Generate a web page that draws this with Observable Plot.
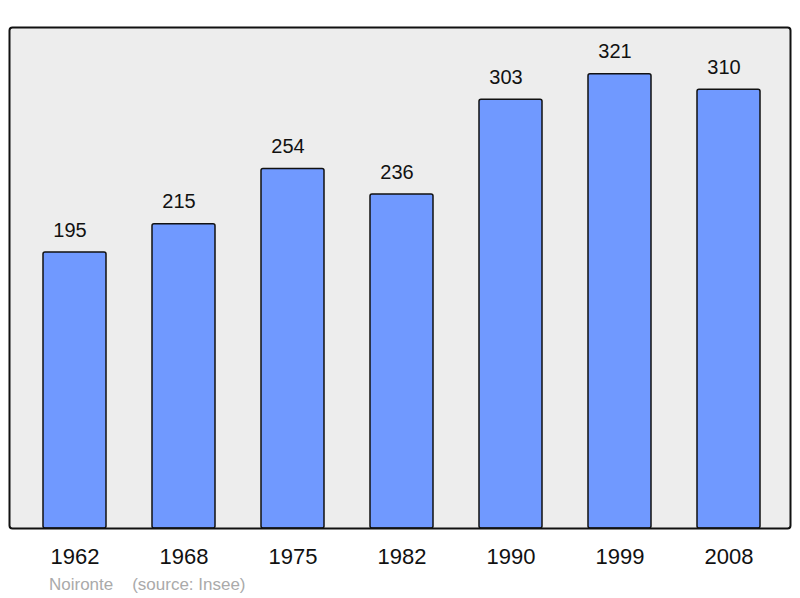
<!DOCTYPE html>
<html>
<head>
<meta charset="utf-8">
<script src="https://cdn.jsdelivr.net/npm/d3@7"></script>
<script src="https://cdn.jsdelivr.net/npm/@observablehq/plot@0.6"></script>
<style>
  body { margin: 0; background: #fff; }
  #wrap { position: relative; width: 800px; height: 598px; font-family: "Liberation Sans", Arial, sans-serif; }
  #caption { position: absolute; left: 49px; top: 576px; font-size: 17px; color: #aaaaaa; white-space: pre; line-height: 1; z-index: 1; }
</style>
</head>
<body>
<div id="wrap"><div id="caption"></div></div>
<script>
const years = ["1962", "1968", "1975", "1982", "1990", "1999", "2008"];
const population = [195, 215, 254, 236, 303, 321, 310];
const caption = "Noironte    (source: Insee)";

const data = years.map((y, i) => ({year: y, value: population[i]}));

const chart = Plot.plot({
  width: 800,
  height: 598,
  marginLeft: 9,
  marginRight: 10,
  marginTop: 27,
  marginBottom: 70,
  style: {fontFamily: "Liberation Sans, Arial, sans-serif", background: "#fff"},
  x: {domain: years, paddingInner: 0.424, paddingOuter: 0.212, insetLeft: 9, insetRight: 5.5, label: null},
  y: {domain: [0, 354], axis: null},
  marks: [
    Plot.frame({fill: "#ededed", stroke: "none", rx: 3}),
    Plot.barY(data, {x: "year", y: "value", fill: "#7099ff", stroke: "#111", strokeWidth: 1.5, rx: 2}),
    Plot.text(data, {x: "year", y: "value", text: d => String(d.value), lineAnchor: "bottom", dy: -16, dx: -5, fontSize: 20, fill: "#111"}),
    Plot.axisX({tickSize: 0, tickPadding: 20, fontSize: 22, label: null, fill: "#111"}),
    Plot.frame({stroke: "#111", strokeWidth: 2, rx: 3})
  ]
});
const wrap = document.getElementById("wrap");
chart.style.position = "absolute";
chart.style.left = "0";
chart.style.top = "0";
wrap.prepend(chart);
document.getElementById("caption").textContent = caption;
</script>
</body>
</html>
